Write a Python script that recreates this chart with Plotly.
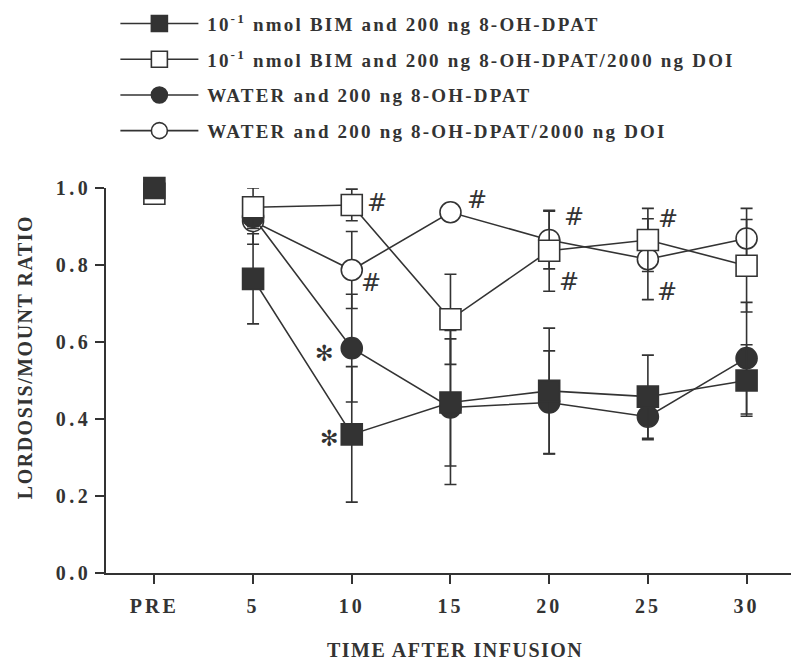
import plotly.graph_objects as go

categories = ["PRE", "5", "10", "15", "20", "25", "30"]

bim_dpat = [1.00, 0.764, 0.360, 0.443, 0.473, 0.458, 0.500]
bim_dpat_err = [0.0, 0.117, 0.176, 0.165, 0.163, 0.108, 0.093]

bim_doi = [0.985, 0.950, 0.956, 0.659, 0.837, 0.865, 0.798]
bim_doi_err = [0.0, 0.050, 0.041, 0.117, 0.105, 0.082, 0.120]

water_dpat = [None, 0.925, 0.584, 0.430, 0.443, 0.406, 0.558]
water_dpat_err = [0.0, 0.030, 0.140, 0.200, 0.134, 0.060, 0.145]

water_doi = [None, 0.914, 0.787, 0.937, 0.865, 0.815, 0.869]
water_doi_err = [0.0, 0.060, 0.100, 0.000, 0.075, 0.105, 0.078]

names = [
    "10<sup>-1</sup> nmol BIM and 200 ng 8-OH-DPAT",
    "10<sup>-1</sup> nmol BIM and 200 ng 8-OH-DPAT/2000 ng DOI",
    "WATER and 200 ng 8-OH-DPAT",
    "WATER and 200 ng 8-OH-DPAT/2000 ng DOI",
]

y_ticks = [0, 0.2, 0.4, 0.6, 0.8, 1.0]
y_tick_labels = ["0.0", "0.2", "0.4", "0.6", "0.8", "1.0"]

x_title = "TIME AFTER INFUSION"
y_title = "LORDOSIS/MOUNT RATIO"

# significance marks: (text, series key, category index, xshift, yshift)
marks = [
    ("#", "bim_doi", 2, 25, 2),
    ("#", "water_doi", 2, 19, -13),
    ("#", "water_doi", 3, 27, 12),
    ("#", "water_doi", 4, 25, 23),
    ("#", "bim_doi", 4, 20, -31),
    ("#", "bim_doi", 5, 20, 21),
    ("#", "water_doi", 5, 19, -33),
    ("✻", "water_dpat", 2, -28, -5),
    ("✻", "bim_dpat", 2, -23, -4),
]

INK = "#333333"
FONT = "Liberation Serif"
x = list(range(len(categories)))


def spaced(s, px):
    return '<span style="letter-spacing:%spx">%s</span>' % (px, s)


series = {
    "bim_dpat": (bim_dpat, bim_dpat_err, names[0], "square", INK, 1),
    "bim_doi": (bim_doi, bim_doi_err, names[1], "square", "white", 2),
    "water_dpat": (water_dpat, water_dpat_err, names[2], "circle", INK, 3),
    "water_doi": (water_doi, water_doi_err, names[3], "circle", "white", 4),
}

fig = go.Figure()
# drawing order: open circle, filled circle, open square, filled square
for key in ["water_doi", "water_dpat", "bim_doi", "bim_dpat"]:
    vals, errs, name, sym, fill, rank = series[key]
    fig.add_trace(go.Scatter(
        x=x[1:], y=vals[1:], name="\u2009" + spaced(name, 2.2), legendrank=rank,
        legendgroup=key,
        mode="lines+markers",
        line=dict(color=INK, width=1.6),
        marker=dict(symbol=sym, size=21, color=fill, line=dict(color=INK, width=1.6)),
        error_y=dict(type="data", array=errs[1:], visible=True, color=INK,
                     thickness=1.6, width=6),
        cliponaxis=False,
    ))
    if vals[0] is not None:
        fig.add_trace(go.Scatter(
            x=x[:1], y=vals[:1], mode="markers", showlegend=False, legendgroup=key,
            marker=dict(symbol=sym, size=21, color=fill, line=dict(color=INK, width=1.6)),
            cliponaxis=False,
        ))

ann = []
for text, key, idx, xs, ys in marks:
    is_hash = text == "#"
    ann.append(dict(
        x=x[idx], y=series[key][0][idx], text=text, showarrow=False,
        xshift=xs, yshift=ys,
        font=dict(family="DejaVu Sans", size=24 if is_hash else 22, color=INK),
    ))

title_font = dict(family=FONT, size=20, color=INK, weight="bold")
ann.append(dict(
    text=spaced(y_title, 1.5), textangle=-90, showarrow=False,
    xref="paper", yref="paper", x=-0.118, y=0.561,
    xanchor="center", yanchor="middle", font=title_font,
))
ann.append(dict(
    text=spaced(x_title, 1.5), showarrow=False,
    xref="paper", yref="paper", x=0.51, y=-0.2,
    xanchor="center", yanchor="middle", font=title_font,
))

fig.update_layout(
    width=800, height=668,
    margin=dict(l=106, r=9, t=188, b=95, autoexpand=False),
    paper_bgcolor="white", plot_bgcolor="white",
    font=dict(family=FONT, color=INK, size=19),
    showlegend=True,
    legend=dict(
        x=0.0137, y=0.993, xref="paper", yref="container",
        xanchor="left", yanchor="top",
        traceorder="grouped", tracegroupgap=8, itemwidth=78,
        font=dict(family=FONT, size=19, color=INK, weight="bold"),
        bgcolor="rgba(0,0,0,0)",
    ),
    annotations=ann,
    xaxis=dict(
        range=[-0.49, 6.45], tickvals=x, ticktext=[spaced(c, 3) for c in categories],
        showline=True, linecolor=INK, linewidth=1.6,
        ticks="outside", ticklen=9, tickwidth=1.6, tickcolor=INK,
        ticklabelstandoff=5, automargin=False,
        showgrid=False, zeroline=False,
        tickfont=dict(family=FONT, size=20, color=INK, weight="bold"),
    ),
    yaxis=dict(
        range=[0, 1.0], tickvals=y_ticks,
        ticktext=[spaced(t, 3.5) for t in y_tick_labels],
        showline=True, linecolor=INK, linewidth=1.6,
        ticks="outside", ticklen=9, tickwidth=1.6, tickcolor=INK,
        ticklabelstandoff=0, automargin=False,
        showgrid=False, zeroline=False,
        tickfont=dict(family=FONT, size=20, color=INK, weight="bold"),
    ),
)

fig.write_html("out.html", config={"displayModeBar": False},
               post_script="document.body.style.margin='0';")
